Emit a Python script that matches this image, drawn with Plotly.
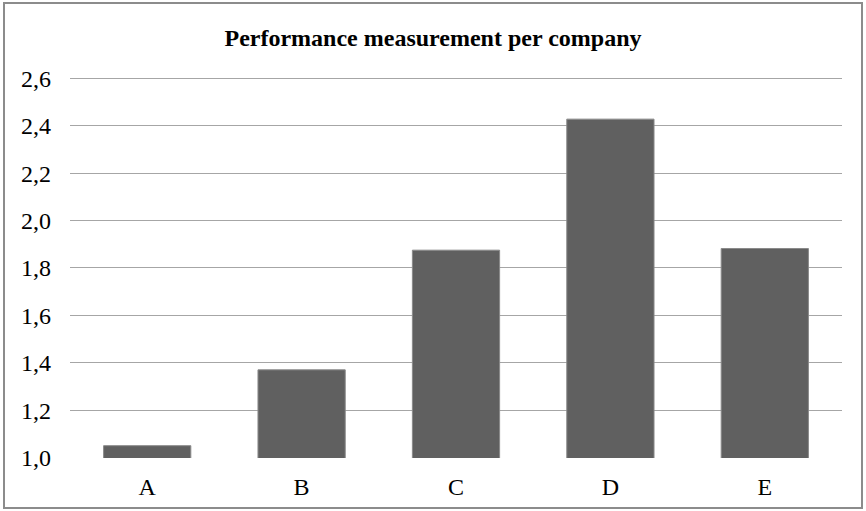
import plotly.graph_objects as go

companies = ["A", "B", "C", "D", "E"]
performance = [1.05, 1.37, 1.875, 2.428, 1.882]
y_ticks = [1.0, 1.2, 1.4, 1.6, 1.8, 2.0, 2.2, 2.4, 2.6]

serif = "Liberation Serif"

fig = go.Figure(
    go.Bar(
        x=companies,
        y=performance,
        base=0,
        marker=dict(color="#606060", line=dict(color="#8a8a8a", width=1)),
        width=0.565,
        hoverinfo="x+y",
    )
)

fig.update_layout(
    width=866,
    height=511,
    margin=dict(l=70, r=24, t=76, b=53),
    paper_bgcolor="white",
    plot_bgcolor="white",
    separators=", ",
    showlegend=False,
    title=dict(
        text="<b>Performance measurement per company</b>",
        x=0.5,
        xanchor="center",
        y=0.927,
        yanchor="middle",
        font=dict(family=serif, size=24, color="black"),
    ),
    font=dict(family=serif, color="black"),
)

fig.update_yaxes(
    range=[0.998, 2.61],
    tickvals=y_ticks,
    tickformat=".1f",
    showgrid=True,
    gridcolor="#a6a6a6",
    gridwidth=1,
    zeroline=False,
    showline=False,
    ticks="",
    ticklabelstandoff=18,
    tickfont=dict(family=serif, size=24, color="black"),
)

fig.update_xaxes(
    showgrid=False,
    showline=False,
    ticks="",
    ticklabelstandoff=12,
    tickfont=dict(family=serif, size=24, color="black"),
)

# Outer frame around the whole chart
fig.add_shape(
    type="rect",
    xref="paper",
    yref="paper",
    x0=(4 - 70) / 772,
    x1=(862 - 70) / 772,
    y0=(458 - 508) / 382,
    y1=1 + (76 - 3) / 382,
    line=dict(color="#8c8c8c", width=2),
    layer="above",
)

fig.write_html("out.html")
